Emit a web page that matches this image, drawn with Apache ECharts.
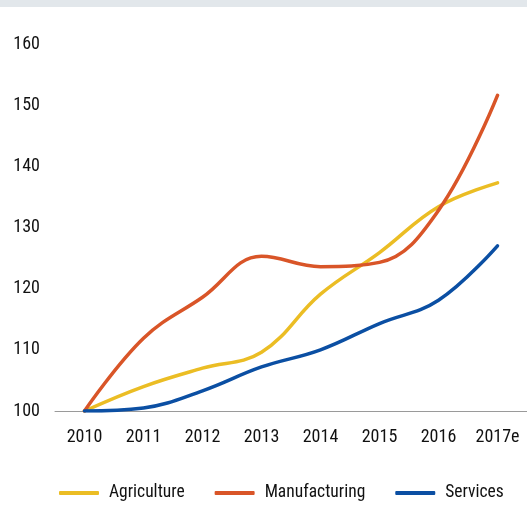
<!DOCTYPE html>
<html>
<head>
<meta charset="utf-8">
<script src="https://cdn.jsdelivr.net/npm/echarts@6/dist/echarts.min.js"></script>
<style>
  html, body { margin: 0; padding: 0; background: #fff; }
  #band { position: absolute; left: 0; top: 0; width: 527px; height: 7px; background: #e2e7eb; }
  #chart { position: absolute; left: 0; top: 0; width: 527px; height: 520px; }
</style>
</head>
<body>
<div id="chart"></div>
<div id="band"></div>
<script>
// Output index by sector, 2010 = 100
const years = ['2010', '2011', '2012', '2013', '2014', '2015', '2016', '2017e'];
const agriculture = [100, 104.0, 107.0, 109.6, 119.1, 125.9, 133.4, 137.3];
const manufacturing = [100, 111.9, 118.6, 125.3, 123.6, 124.3, 132.8, 151.6];
const services = [100, 100.5, 103.3, 107.2, 110.0, 114.3, 118.1, 127.0];
const yTicks = [100, 110, 120, 130, 140, 150, 160];

const FONT = '"Roboto Condensed", "Liberation Sans Narrow", Arial, sans-serif';
const colors = ['#ebbd24', '#d95528', '#0b4fa3'];

const chart = echarts.init(document.getElementById('chart'), null, { renderer: 'canvas' });

function line(name, data, color) {
  return {
    name: name,
    type: 'line',
    data: data,
    smooth: 0.4,
    symbol: 'none',
    lineStyle: { width: 3.5, color: color, cap: 'round' },
    itemStyle: { color: color }
  };
}

chart.setOption({
  animation: false,
  textStyle: { fontFamily: FONT },
  grid: { left: 55, right: -3, top: 44, bottom: 109, containLabel: false },
  xAxis: {
    type: 'category',
    data: years,
    boundaryGap: true,
    axisLine: { show: true, lineStyle: { color: '#9a9a9a', width: 1 } },
    axisTick: { show: false },
    axisLabel: { color: '#111', fontSize: 18, margin: 17, fontFamily: FONT }
  },
  yAxis: {
    type: 'value',
    min: yTicks[0],
    max: yTicks[yTicks.length - 1],
    interval: 10,
    splitLine: { show: false },
    axisLine: { show: false },
    axisTick: { show: false },
    axisLabel: { color: '#111', fontSize: 18, margin: 15, fontFamily: FONT }
  },
  legend: {
    top: 484,
    left: 59,
    padding: 0,
    itemWidth: 40,
    itemHeight: 4,
    itemGap: 30,
    icon: 'roundRect',
    textStyle: { color: '#111', fontSize: 17.5, fontFamily: FONT, padding: [0, 0, 0, 5] },
    data: ['Agriculture', 'Manufacturing', 'Services']
  },
  series: [
    line('Agriculture', agriculture, colors[0]),
    line('Manufacturing', manufacturing, colors[1]),
    line('Services', services, colors[2])
  ]
});
</script>
</body>
</html>
